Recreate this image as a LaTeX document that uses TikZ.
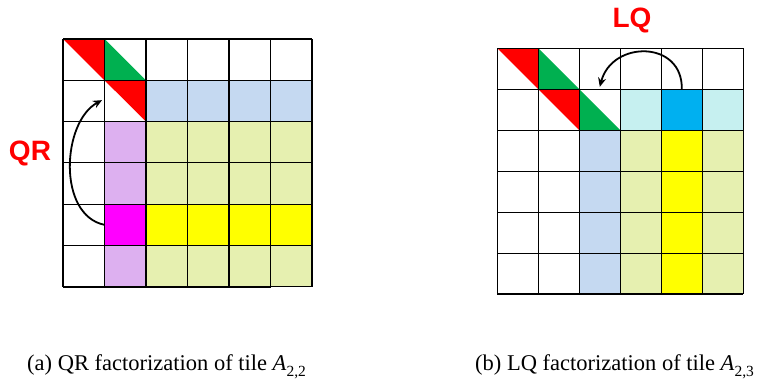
\documentclass[tikz,border=0pt]{standalone}
\usepackage{fontspec}
\setmainfont{Liberation Serif}
\newfontfamily\lblfont{Liberation Sans}
\usetikzlibrary{arrows.meta}
\definecolor{tred}{HTML}{FF0000}
\definecolor{tgreen}{HTML}{00B050}
\definecolor{ltblue}{HTML}{C5D9F1}
\definecolor{lav}{HTML}{DDB0F0}
\definecolor{tmag}{HTML}{FF00FF}
\definecolor{ltolive}{HTML}{E6F0B0}
\definecolor{tyellow}{HTML}{FFFF00}
\definecolor{ltcyan}{HTML}{C6F0F0}
\definecolor{tblue}{HTML}{00B0F0}
\newcommand\tilesub[1]{\raisebox{-0.3em}{\fontsize{15.5}{16}\selectfont #1}}
\begin{document}
\begin{tikzpicture}[x=1pt,y=-1pt,
  gridline/.style={line width=1.1pt},
  botline/.style={line width=2pt},
  flow/.style={line width=1.8pt, -{Stealth[length=9pt,width=8pt]}},
  lbl/.style={text=tred, font=\lblfont\bfseries\fontsize{28}{28}\selectfont, inner sep=0pt},
  captext/.style={font=\fontsize{22.5}{27}\selectfont, inner sep=0pt, anchor=base west}]
\useasboundingbox (0,0) rectangle (777,383);
% left grid
\begin{scope}[xshift=63pt, yshift=-39pt, x=41.5pt, y=-41.3pt]
 \fill[ltblue] (2,1) rectangle (6,2);
 \fill[lav] (1,2) rectangle (2,6);
 \fill[tmag] (1,4) rectangle (2,5);
 \fill[ltolive] (2,2) rectangle (6,6);
 \fill[tyellow] (2,4) rectangle (6,5);
 \fill[tred] (0,0) -- (1,0) -- (1,1) -- cycle;
 \fill[tgreen] (1,0) -- (1,1) -- (2,1) -- cycle;
 \fill[tred] (1,1) -- (2,1) -- (2,2) -- cycle;
 \foreach \i in {0,...,6} {\draw[gridline] (\i,0) -- (\i,6); \draw[gridline] (0,\i) -- (6,\i);}
 \draw[botline] (0,6) -- (5,6);
 \coordinate (qrstart) at (1,4.5);
 \coordinate (qrend) at (0.94,1.48);
\end{scope}
% right grid
\begin{scope}[xshift=497.3pt, yshift=-48.3pt, x=41pt, y=-41pt]
 \fill[ltcyan] (3,1) rectangle (6,2);
 \fill[tblue] (4,1) rectangle (5,2);
 \fill[ltblue] (2,2) rectangle (3,6);
 \fill[ltolive] (3,2) rectangle (6,6);
 \fill[tyellow] (4,2) rectangle (5,6);
 \fill[tred] (0,0) -- (1,0) -- (1,1) -- cycle;
 \fill[tgreen] (1,0) -- (1,1) -- (2,1) -- cycle;
 \fill[tred] (1,1) -- (2,1) -- (2,2) -- cycle;
 \fill[tgreen] (2,1) -- (2,2) -- (3,2) -- cycle;
 \foreach \i in {0,...,6} {\draw[gridline] (\i,0) -- (\i,6); \draw[gridline] (0,\i) -- (6,\i);}
 \draw[botline] (0,6) -- (6,6);
 \coordinate (lqstart) at (4.5,1);
 \coordinate (lqend) at (2.5,0.94);
\end{scope}
\draw[flow] (qrstart) .. controls (57,215) and (62,122) .. (qrend);
\draw[flow] (lqstart) .. controls (683,40) and (612,40) .. (lqend);
\node[lbl] (qr) at (30,153) {QR};
\node[lbl] (lq) at (632,20) {LQ};
\node[captext] (capa) at (27,370) {(a) QR factorization of tile \textit{A}\tilesub{2,2}};
\node[captext] (capb) at (475,370) {(b) LQ factorization of tile \textit{A}\tilesub{2,3}};
\end{tikzpicture}
\end{document}
